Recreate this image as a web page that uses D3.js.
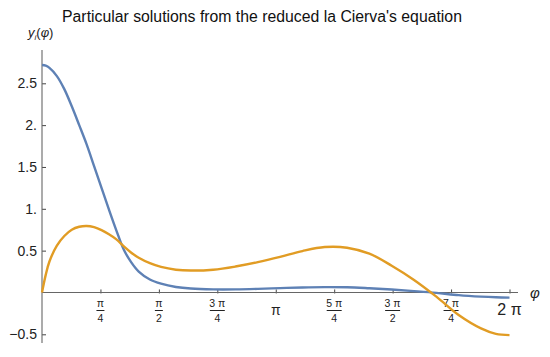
<!DOCTYPE html>
<html>
<head>
<meta charset="utf-8">
<script src="https://cdn.jsdelivr.net/npm/d3@7"></script>
<style>
  body { margin: 0; background: #fff; }
  text { font-family: "Liberation Sans", Arial, sans-serif; }
</style>
</head>
<body>
<div id="chart"></div>
<script>
const width = 550;
const height = 357;

// sample points (radians) and the two particular solutions
const phi = [0, 0.05, 0.1, 0.2, 0.3, 0.4, 0.5, 0.6, 0.7, 0.8, 0.9, 1.0, 1.1, 1.2, 1.3, 1.45, 1.6, 1.8, 2.0, 2.3, 2.6, 2.9, 3.2, 3.5, 3.8, 4.1, 4.4, 4.7, 5.0, 5.3, 5.6, 5.9, 6.1, 2 * Math.PI];
const ySol1 = [2.718, 2.71, 2.684, 2.586, 2.43, 2.225, 2.0, 1.77, 1.51, 1.25, 0.99, 0.74, 0.51, 0.36, 0.25, 0.155, 0.105, 0.066, 0.047, 0.037, 0.037, 0.043, 0.052, 0.060, 0.064, 0.062, 0.050, 0.035, 0.016, -0.005, -0.032, -0.05, -0.058, -0.062];
const ySol2 = [0, 0.21, 0.37, 0.56, 0.675, 0.75, 0.785, 0.795, 0.78, 0.745, 0.695, 0.635, 0.55, 0.475, 0.415, 0.35, 0.305, 0.272, 0.262, 0.272, 0.31, 0.362, 0.425, 0.495, 0.543, 0.535, 0.463, 0.32, 0.15, -0.05, -0.27, -0.43, -0.495, -0.51];

const xTickValues = [1, 2, 3, 4, 5, 6, 7, 8].map(k => k * Math.PI / 4);
const xTickLabels = ["π/4", "π/2", "3 π/4", "π", "5 π/4", "3 π/2", "7 π/4", "2 π"];
const yTickValues = [-0.5, 0.5, 1, 1.5, 2, 2.5];
const yTickLabels = ["\u22120.5", "0.5", "1.", "1.5", "2.", "2.5"];

const colors = ["#5E81B5", "#E19C24"];

const svg = d3.select("#chart")
  .append("svg")
  .attr("width", width)
  .attr("height", height);

const x = d3.scaleLinear().domain([0, 2 * Math.PI]).range([42, 509.5]);
const y = d3.scaleLinear().domain([-0.5, 2.5]).range([334.3, 83.3]);

// title
svg.append("text")
  .attr("x", 262)
  .attr("y", 22)
  .attr("text-anchor", "middle")
  .attr("font-size", 15.8)
  .attr("fill", "#111")
  .text("Particular solutions from the reduced la Cierva's equation");

// x axis
const xAxis = svg.append("g")
  .attr("transform", `translate(0,${y(0)})`)
  .call(d3.axisBottom(x).tickValues(xTickValues).tickSize(-4).tickFormat(""));
xAxis.select(".domain").remove();
xAxis.selectAll(".tick line").attr("stroke", "#444").attr("transform", "translate(0,1)");
xAxis.append("line")
  .attr("x1", x(0)).attr("x2", 518)
  .attr("stroke", "#666").attr("stroke-width", 1.1);

// y axis
const yAxis = svg.append("g")
  .attr("transform", `translate(${x(0)},0)`)
  .call(d3.axisLeft(y).tickValues(yTickValues).tickSize(-4).tickPadding(5)
    .tickFormat((d, i) => yTickLabels[i]));
yAxis.select(".domain").remove();
yAxis.selectAll(".tick line").attr("stroke", "#444");
yAxis.selectAll(".tick text")
  .attr("font-size", 14)
  .attr("font-family", "Liberation Sans, Arial, sans-serif")
  .attr("fill", "#222");
yAxis.append("line")
  .attr("y1", 50).attr("y2", 343)
  .attr("stroke", "#666").attr("stroke-width", 1.1);

// x tick labels, drawn as stacked fractions
const lab = svg.append("g").attr("fill", "#222");
xTickValues.forEach((v, i) => {
  const parts = xTickLabels[i].split("/");
  const cx = x(v);
  if (parts.length === 2) {
    lab.append("text")
      .attr("x", cx).attr("y", 307)
      .attr("text-anchor", "middle")
      .attr("font-size", 10.5)
      .text(parts[0]);
    const w = parts[0].length > 1 ? 15 : 8;
    lab.append("line")
      .attr("x1", cx - w / 2).attr("x2", cx + w / 2)
      .attr("y1", 310.5).attr("y2", 310.5)
      .attr("stroke", "#222").attr("stroke-width", 1);
    lab.append("text")
      .attr("x", cx).attr("y", 322)
      .attr("text-anchor", "middle")
      .attr("font-size", 10.5)
      .text(parts[1]);
  } else {
    lab.append("text")
      .attr("x", cx).attr("y", 315)
      .attr("text-anchor", "middle")
      .attr("font-size", i === 7 ? 16 : 14)
      .text(parts[0]);
  }
});

// axis labels
const yl = svg.append("text")
  .attr("x", 28).attr("y", 37)
  .attr("font-size", 13)
  .attr("fill", "#222");
yl.append("tspan").attr("font-style", "italic").text("y");
yl.append("tspan").attr("font-style", "italic").attr("font-size", 8).attr("dy", 3).text("i");
yl.append("tspan").attr("dy", -3).text("(");
yl.append("tspan").attr("font-style", "italic").text("φ");
yl.append("tspan").text(")");

svg.append("text")
  .attr("x", 530).attr("y", 298)
  .attr("font-size", 15)
  .attr("font-style", "italic")
  .attr("fill", "#222")
  .text("φ");

// curves
const line = d3.line()
  .x(d => x(d[0]))
  .y(d => y(d[1]))
  .curve(d3.curveCatmullRom.alpha(0.5));

[ySol1, ySol2].forEach((series, i) => {
  svg.append("path")
    .datum(phi.map((p, j) => [p, series[j]]))
    .attr("fill", "none")
    .attr("stroke", colors[i])
    .attr("stroke-width", 2.4)
    .attr("stroke-linejoin", "round")
    .attr("d", line);
});
</script>
</body>
</html>
